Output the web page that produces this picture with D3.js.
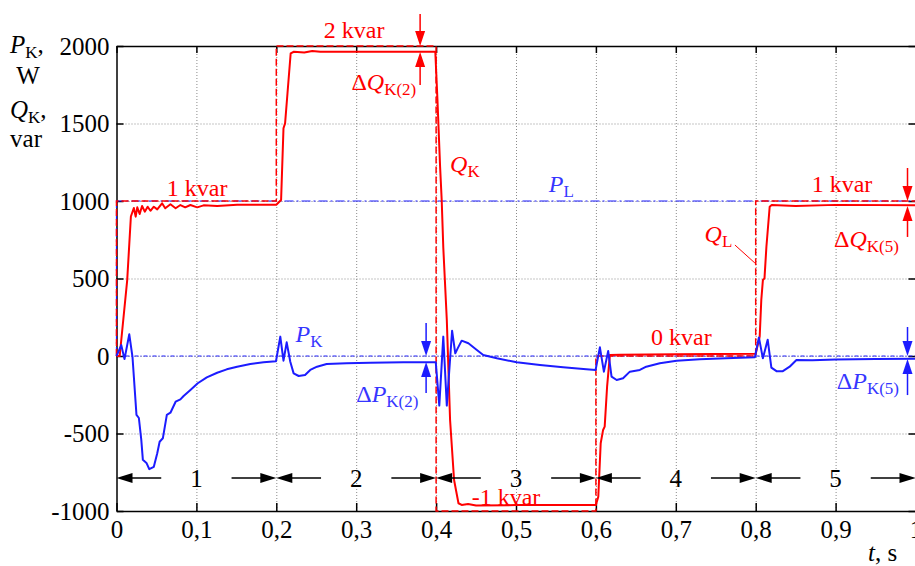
<!DOCTYPE html>
<html lang="en">
<head>
<meta charset="UTF-8">
<title>P_K, Q_K transients</title>
<script src="https://d3js.org/d3.v7.min.js"></script>
<style>
    body { margin: 0; background: #fff; }
    svg text { font-family: "Liberation Serif", "DejaVu Serif", serif; }
    .grid line { stroke: #8a8a8a; stroke-width: 1; stroke-dasharray: 1,2; }
    .grid path { display: none; }
    .axis path, .axis line { stroke: #000; stroke-width: 1.5; }
</style>
</head>
<body>
<svg width="915" height="566"></svg>
<script>
// --- data ---
const xTicks = [0, 0.1, 0.2, 0.3, 0.4, 0.5, 0.6, 0.7, 0.8, 0.9, 1];
const yTicks = [-1000, -500, 0, 500, 1000, 1500, 2000];

// reactive power of the load (step), var
const qlT = [0, 0, 0.2, 0.2, 0.4, 0.4, 0.6, 0.6, 0.8, 0.8, 1.0];
const qlV = [0, 1000, 1000, 2000, 2000, -1000, -1000, 0, 0, 1000, 1000];

// active power of the load, W
const plT = [0, 0, 1.0];
const plV = [0, 1000, 1000];

// compensator reactive power Q_K, var
const qkT = [0, 0.004, 0.0134, 0.018, 0.0217, 0.024, 0.026, 0.029, 0.032, 0.0354, 0.039, 0.0425, 0.0467, 0.051, 0.057, 0.061, 0.0675, 0.074, 0.08, 0.086, 0.0925, 0.101, 0.109, 0.126, 0.151, 0.176, 0.2,
    0.206, 0.209, 0.211, 0.214, 0.218, 0.222, 0.235, 0.245, 0.255, 0.3, 0.399,
    0.4017, 0.405, 0.407, 0.409, 0.4134, 0.4175, 0.4225, 0.428, 0.432, 0.44, 0.45, 0.5, 0.6,
    0.603, 0.606, 0.609, 0.611, 0.614, 0.6175, 0.63, 0.7, 0.8,
    0.805, 0.807, 0.809, 0.811, 0.8134, 0.8175, 0.82, 0.85, 0.9, 1.0];
const qkV = [0, 0, 490, 900, 955, 899, 959, 916, 968, 931, 963, 937, 963, 946, 985, 953, 979, 953, 974, 959, 974, 959, 972, 968, 976, 976, 976,
    1006, 1469, 1501, 1695, 1953, 1963, 1958, 1968, 1963, 1963, 1963,
    1652, 1221, 1006, 700, 232, -413, -800, -950, -961, -955, -965, -962, -961,
    -908, -563, -477, -456, -198, 6, 8, 12, 15,
    125, 361, 490, 501, 705, 963, 974, 968, 975, 972];

// compensator active power P_K, W
const pkT = [0, 0.006, 0.010, 0.016, 0.020, 0.025, 0.028, 0.031, 0.033, 0.0375, 0.041, 0.0467, 0.051, 0.054, 0.058, 0.063, 0.0675, 0.074, 0.080, 0.084, 0.0925, 0.1017, 0.113, 0.126, 0.138, 0.151, 0.1675, 0.184, 0.1996,
    0.205, 0.209, 0.213, 0.2175, 0.2217, 0.228, 0.236, 0.2425, 0.251, 0.263, 0.288, 0.3175, 0.359, 0.3996,
    0.404, 0.409, 0.4134, 0.42, 0.424, 0.427, 0.432, 0.4404, 0.451, 0.459, 0.476, 0.501, 0.53, 0.559, 0.588, 0.5996,
    0.605, 0.61, 0.6154, 0.6196, 0.626, 0.634, 0.6425, 0.655, 0.663, 0.68, 0.701, 0.73, 0.763, 0.799,
    0.804, 0.809, 0.815, 0.8196, 0.826, 0.834, 0.8425, 0.851, 0.871, 0.9, 0.95, 1.0];
const pkV = [0, 70, -20, 140, -5, -380, -400, -540, -670, -690, -730, -715, -627, -553, -531, -380, -366, -295, -280, -258, -219, -176, -138, -108, -86, -69, -52, -41, -34,
    125, -30, 88, -37, -112, -129, -123, -90, -69, -52, -47, -43, -41, -41,
    -320, 125, -320, 163, 17, 49, 99, 82, 39, 6, -15, -41, -58, -73, -86, -90,
    56, -101, 32, -133, -155, -144, -101, -90, -69, -47, -30, -21, -15, -8,
    120, -15, 105, -75, -98, -98, -69, -26, -28, -22, -20, -17];

// intervals
const segBounds = [0, 0.2, 0.4, 0.6, 0.8, 1.0];
const segLabels = ["1", "2", "3", "4", "5"];

const RED = "#ff0000", BLUE = "#1c1cff", BLUE_TXT = "#3636ff";
const FS = 25;

const svg = d3.select("svg");
const x = d3.scaleLinear().domain([0, 1]).range([116.5, 915.5]);
const y = d3.scaleLinear().domain([-1000, 2000]).range([511, 46]);

// grid
svg.append("g").attr("class", "grid")
    .attr("transform", `translate(0,${y(-1000)})`)
    .call(d3.axisBottom(x).tickValues(xTicks.slice(1, -1)).tickSize(-(y(-1000) - y(2000))).tickFormat(""));
svg.append("g").attr("class", "grid")
    .attr("transform", `translate(${x(0)},0)`)
    .call(d3.axisLeft(y).tickValues(yTicks.slice(1, -1)).tickSize(-(x(1) - x(0))).tickFormat(""));

// frame with inward ticks
const fmtX = d => d === 0 ? "0" : d === 1 ? "1" : String(d).replace(".", ",");
svg.append("g").attr("class", "axis")
    .attr("transform", `translate(0,${y(-1000)})`)
    .call(d3.axisBottom(x).tickValues(xTicks).tickSizeInner(-8).tickSizeOuter(0).tickPadding(14).tickFormat(fmtX))
    .call(g => g.selectAll("text").attr("font-size", FS).attr("fill", "#000").attr("dy", "0.5em"));
svg.append("g").attr("class", "axis")
    .attr("transform", `translate(0,${y(2000)})`)
    .call(d3.axisTop(x).tickValues(xTicks).tickSizeInner(-7).tickSizeOuter(0).tickFormat(""));
svg.append("g").attr("class", "axis")
    .attr("transform", `translate(${x(0)},0)`)
    .call(d3.axisLeft(y).tickValues(yTicks).tickSizeInner(-7).tickSizeOuter(0).tickPadding(7).tickFormat(d => String(d)))
    .call(g => g.selectAll("text").attr("font-size", FS).attr("fill", "#000").attr("dy", "0.33em"));
svg.append("g").attr("class", "axis")
    .attr("transform", `translate(${x(1)},0)`)
    .call(d3.axisRight(y).tickValues(yTicks).tickSizeInner(-7).tickSizeOuter(0).tickFormat(""));

const line = (ts, vs) => d3.line().x(i => x(ts[i])).y(i => y(vs[i]))(d3.range(ts.length));

// zero reference and P_L
svg.append("path").attr("d", line([0, 1], [0, 0]))
    .attr("fill", "none").attr("stroke", BLUE).attr("stroke-width", 1).attr("stroke-dasharray", "4,2,1,2");
svg.append("path").attr("d", line(plT, plV))
    .attr("fill", "none").attr("stroke", BLUE).attr("stroke-width", 1.2).attr("stroke-dasharray", "9,3,2,3");
// Q_L
svg.append("path").attr("d", line(qlT, qlV))
    .attr("fill", "none").attr("stroke", RED).attr("stroke-width", 1.5).attr("stroke-dasharray", "7,3");
// Q_K, P_K
svg.append("path").attr("d", line(qkT, qkV))
    .attr("fill", "none").attr("stroke", RED).attr("stroke-width", 2).attr("stroke-linejoin", "round");
svg.append("path").attr("d", line(pkT, pkV))
    .attr("fill", "none").attr("stroke", BLUE).attr("stroke-width", 2).attr("stroke-linejoin", "round");

// arrows
function vArrow(t, v0, v1, color) {
    const X = x(t), Y0 = y(v0), Y1 = y(v1), s = Y1 > Y0 ? 1 : -1;
    svg.append("line").attr("x1", X).attr("x2", X).attr("y1", Y0).attr("y2", Y1 - s * 10)
        .attr("stroke", color).attr("stroke-width", 1.5);
    svg.append("path").attr("d", `M${X},${Y1}L${X - 5},${Y1 - s * 15}L${X + 5},${Y1 - s * 15}Z`).attr("fill", color);
}
function hArrow(t0, t1, yy) {
    const X0 = x(t0), X1 = x(t1), s = X1 > X0 ? 1 : -1;
    svg.append("line").attr("x1", X0).attr("x2", X1 - s * 10).attr("y1", yy).attr("y2", yy)
        .attr("stroke", "#000").attr("stroke-width", 1.5);
    svg.append("path").attr("d", `M${X1},${yy}L${X1 - s * 16},${yy - 5}L${X1 - s * 16},${yy + 5}Z`).attr("fill", "#000");
}

const segY = 478;
segLabels.forEach((lab, i) => {
    const a = segBounds[i], b = segBounds[i + 1];
    hArrow(a + 0.056, a, segY);
    hArrow(b - 0.056, b, segY);
    svg.append("text").attr("x", x((a + b) / 2)).attr("y", segY + 9).attr("text-anchor", "middle")
        .attr("font-size", FS).text(lab);
});

// rich text helper: parts = [text, kind] kind: "i" italic, "s" subscript, "" normal
function rich(px, py, parts, color, anchor) {
    const t = svg.append("text").attr("x", px).attr("y", py).attr("fill", color)
        .attr("font-size", 24).attr("text-anchor", anchor || "start");
    let down = 0;
    parts.forEach(([txt, k]) => {
        const s = t.append("tspan").text(txt);
        if (k === "i") s.attr("font-style", "italic");
        if (k === "s") { s.attr("font-size", 17); if (!down) { s.attr("dy", 5); down = 5; } }
        else if (down) { s.attr("dy", -down); down = 0; }
    });
    return t;
}

// value labels
rich(x(0.101), y(1032), [["1 kvar", ""]], RED, "middle");
rich(x(0.2975), y(2052), [["2 kvar", ""]], RED, "middle");
rich(x(0.4875), y(-961), [["-1 kvar", ""]], RED, "middle");
rich(x(0.707), y(71), [["0 kvar", ""]], RED, "middle");
rich(x(0.908), y(1058), [["1 kvar", ""]], RED, "middle");

rich(x(0.294), y(1716), [["Δ", ""], ["Q", "i"], ["K(2)", "s"]], RED);
rich(x(0.898), y(703), [["Δ", ""], ["Q", "i"], ["K(5)", "s"]], RED);
rich(x(0.4175), y(1187), [["Q", "i"], ["K", "s"]], RED);
rich(x(0.736), y(735), [["Q", "i"], ["L", "s"]], RED);
svg.append("line").attr("x1", x(0.774)).attr("y1", y(716)).attr("x2", x(0.799)).attr("y2", y(600))
    .attr("stroke", RED).attr("stroke-width", 1);

rich(x(0.541), y(1058), [["P", "i"], ["L", "s"]], BLUE_TXT);
rich(x(0.224), y(90), [["P", "i"], ["K", "s"]], BLUE_TXT);
rich(x(0.3), y(-297), [["Δ", ""], ["P", "i"], ["K(2)", "s"]], BLUE_TXT);
rich(x(0.9015), y(-213), [["Δ", ""], ["P", "i"], ["K(5)", "s"]], BLUE_TXT);

vArrow(0.38, 2206, 2000, RED);
vArrow(0.38, 1748, 1961, RED);
vArrow(0.3875, 213, 0, BLUE);
vArrow(0.3875, -239, -39, BLUE);
vArrow(0.99, 1213, 1000, RED);
vArrow(0.99, 768, 968, RED);
vArrow(0.99, 187, 0, BLUE);
vArrow(0.99, -252, -19, BLUE);

// axis titles
rich(10, 53, [["P", "i"], ["K", "s"], [",", ""]], "#000").attr("font-size", FS);
svg.append("text").attr("x", 28).attr("y", 84).attr("text-anchor", "middle").attr("font-size", FS).text("W");
rich(10, 118, [["Q", "i"], ["K", "s"], [",", ""]], "#000").attr("font-size", FS);
svg.append("text").attr("x", 26).attr("y", 147).attr("text-anchor", "middle").attr("font-size", FS).text("var");
rich(868, 561, [["t", "i"], [", s", ""]], "#000").attr("font-size", FS);
</script>
</body>
</html>
